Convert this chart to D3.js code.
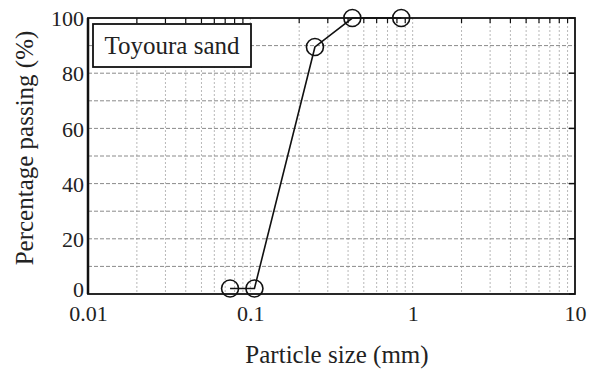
<html>
<head>
<script src="https://d3js.org/d3.v7.min.js"></script>
<style>
  body { margin: 0; background: #fff; }
  text { font-family: "Liberation Serif", "Times New Roman", serif; fill: #222; }
</style>
</head>
<body>
<script>
// particle size distribution, Toyoura sand
var sizes = [0.075, 0.106, 0.25, 0.425, 0.85];
var passing = [2, 2, 89.5, 100, 100];
var xTicks = [0.01, 0.1, 1, 10];
var xTickLabels = ["0.01", "0.1", "1", "10"];
var yTicks = [0, 20, 40, 60, 80, 100];

var width = 590, height = 371;
var margin = {left: 88, right: 15, top: 18, bottom: 77};

var svg = d3.select("body").append("svg")
  .attr("width", width)
  .attr("height", height);

var x = d3.scaleLog().domain([0.01, 10]).range([margin.left, width - margin.right]);
var y = d3.scaleLinear().domain([0, 100]).range([height - margin.bottom, margin.top]);

// minor grid, vertical
var minors = [];
[0.01, 0.1, 1].forEach(function(d) {
  for (var k = 2; k <= 9; k++) minors.push(d * k);
});
svg.append("g").selectAll("line")
  .data(minors.concat([0.1, 1]))
  .enter().append("line")
  .attr("x1", function(d) { return x(d); })
  .attr("x2", function(d) { return x(d); })
  .attr("y1", y(100))
  .attr("y2", y(0))
  .attr("stroke", "#b8b8b8")
  .attr("stroke-dasharray", "2,2")
  .attr("stroke-width", 1);

// horizontal grid every 10 %
svg.append("g").selectAll("line")
  .data(d3.range(10, 100, 10))
  .enter().append("line")
  .attr("x1", x(0.01))
  .attr("x2", x(10))
  .attr("y1", function(d) { return y(d); })
  .attr("y2", function(d) { return y(d); })
  .attr("stroke", "#8a8a8a")
  .attr("stroke-dasharray", "4,2")
  .attr("stroke-width", 1);

// axes
var xAxis = svg.append("g")
  .attr("transform", "translate(0," + y(0) + ")")
  .call(d3.axisBottom(x).tickValues(xTicks).tickFormat(function(d, i) { return xTickLabels[i]; }).tickSize(0).tickPadding(11));
xAxis.select(".domain").remove();
xAxis.selectAll("text").style("font-size", "22px").style("font-family", "Liberation Serif, serif").attr("fill", "#222");

var yAxis = svg.append("g")
  .attr("transform", "translate(" + x(0.01) + ",0)")
  .call(d3.axisLeft(y).tickValues(yTicks).tickSize(0).tickPadding(4));
yAxis.select(".domain").remove();
yAxis.selectAll("text").style("font-size", "22px").style("font-family", "Liberation Serif, serif").attr("fill", "#222")
  .attr("dy", function(d) { return d === 0 ? "0.1em" : "0.35em"; });

// inward ticks
svg.append("g").selectAll("line")
  .data(minors)
  .enter().append("line")
  .attr("x1", function(d) { return x(d); })
  .attr("x2", function(d) { return x(d); })
  .attr("y1", y(100))
  .attr("y2", y(100) + 5)
  .attr("stroke", "#111").attr("stroke-width", 1.2);
svg.append("g").selectAll("line")
  .data(yTicks)
  .enter().append("line")
  .attr("x1", x(10))
  .attr("x2", x(10) - 6)
  .attr("y1", function(d) { return y(d); })
  .attr("y2", function(d) { return y(d); })
  .attr("stroke", "#111").attr("stroke-width", 1.5);

// frame
svg.append("rect")
  .attr("x", x(0.01)).attr("y", y(100))
  .attr("width", x(10) - x(0.01)).attr("height", y(0) - y(100))
  .attr("fill", "none").attr("stroke", "#111").attr("stroke-width", 1.8);
svg.append("line")
  .attr("x1", x(0.01)).attr("x2", x(0.01))
  .attr("y1", y(100)).attr("y2", y(0))
  .attr("stroke", "#111").attr("stroke-width", 2.5);

// data line and circles
var line = d3.line()
  .x(function(d, i) { return x(sizes[i]); })
  .y(function(d) { return y(d); });
svg.append("path")
  .attr("d", line(passing))
  .attr("fill", "none").attr("stroke", "#111").attr("stroke-width", 1.6);
svg.append("g").selectAll("circle")
  .data(passing)
  .enter().append("circle")
  .attr("cx", function(d, i) { return x(sizes[i]); })
  .attr("cy", function(d) { return y(d); })
  .attr("r", 8.5)
  .attr("fill", "none").attr("stroke", "#111").attr("stroke-width", 1.6);

// legend box
svg.append("rect")
  .attr("x", 93).attr("y", 24).attr("width", 158).attr("height", 43)
  .attr("fill", "#fff").attr("stroke", "#111").attr("stroke-width", 1.8);
svg.append("text")
  .attr("x", 172).attr("y", 54)
  .attr("text-anchor", "middle")
  .style("font-size", "25px")
  .text("Toyoura sand");

// axis titles
svg.append("text")
  .attr("x", 337)
  .attr("y", 363)
  .attr("text-anchor", "middle")
  .style("font-size", "25px")
  .text("Particle size (mm)");
svg.append("text")
  .attr("transform", "translate(33,148) rotate(-90)")
  .attr("text-anchor", "middle")
  .style("font-size", "25px")
  .text("Percentage passing (%)");
</script>
</body>
</html>
